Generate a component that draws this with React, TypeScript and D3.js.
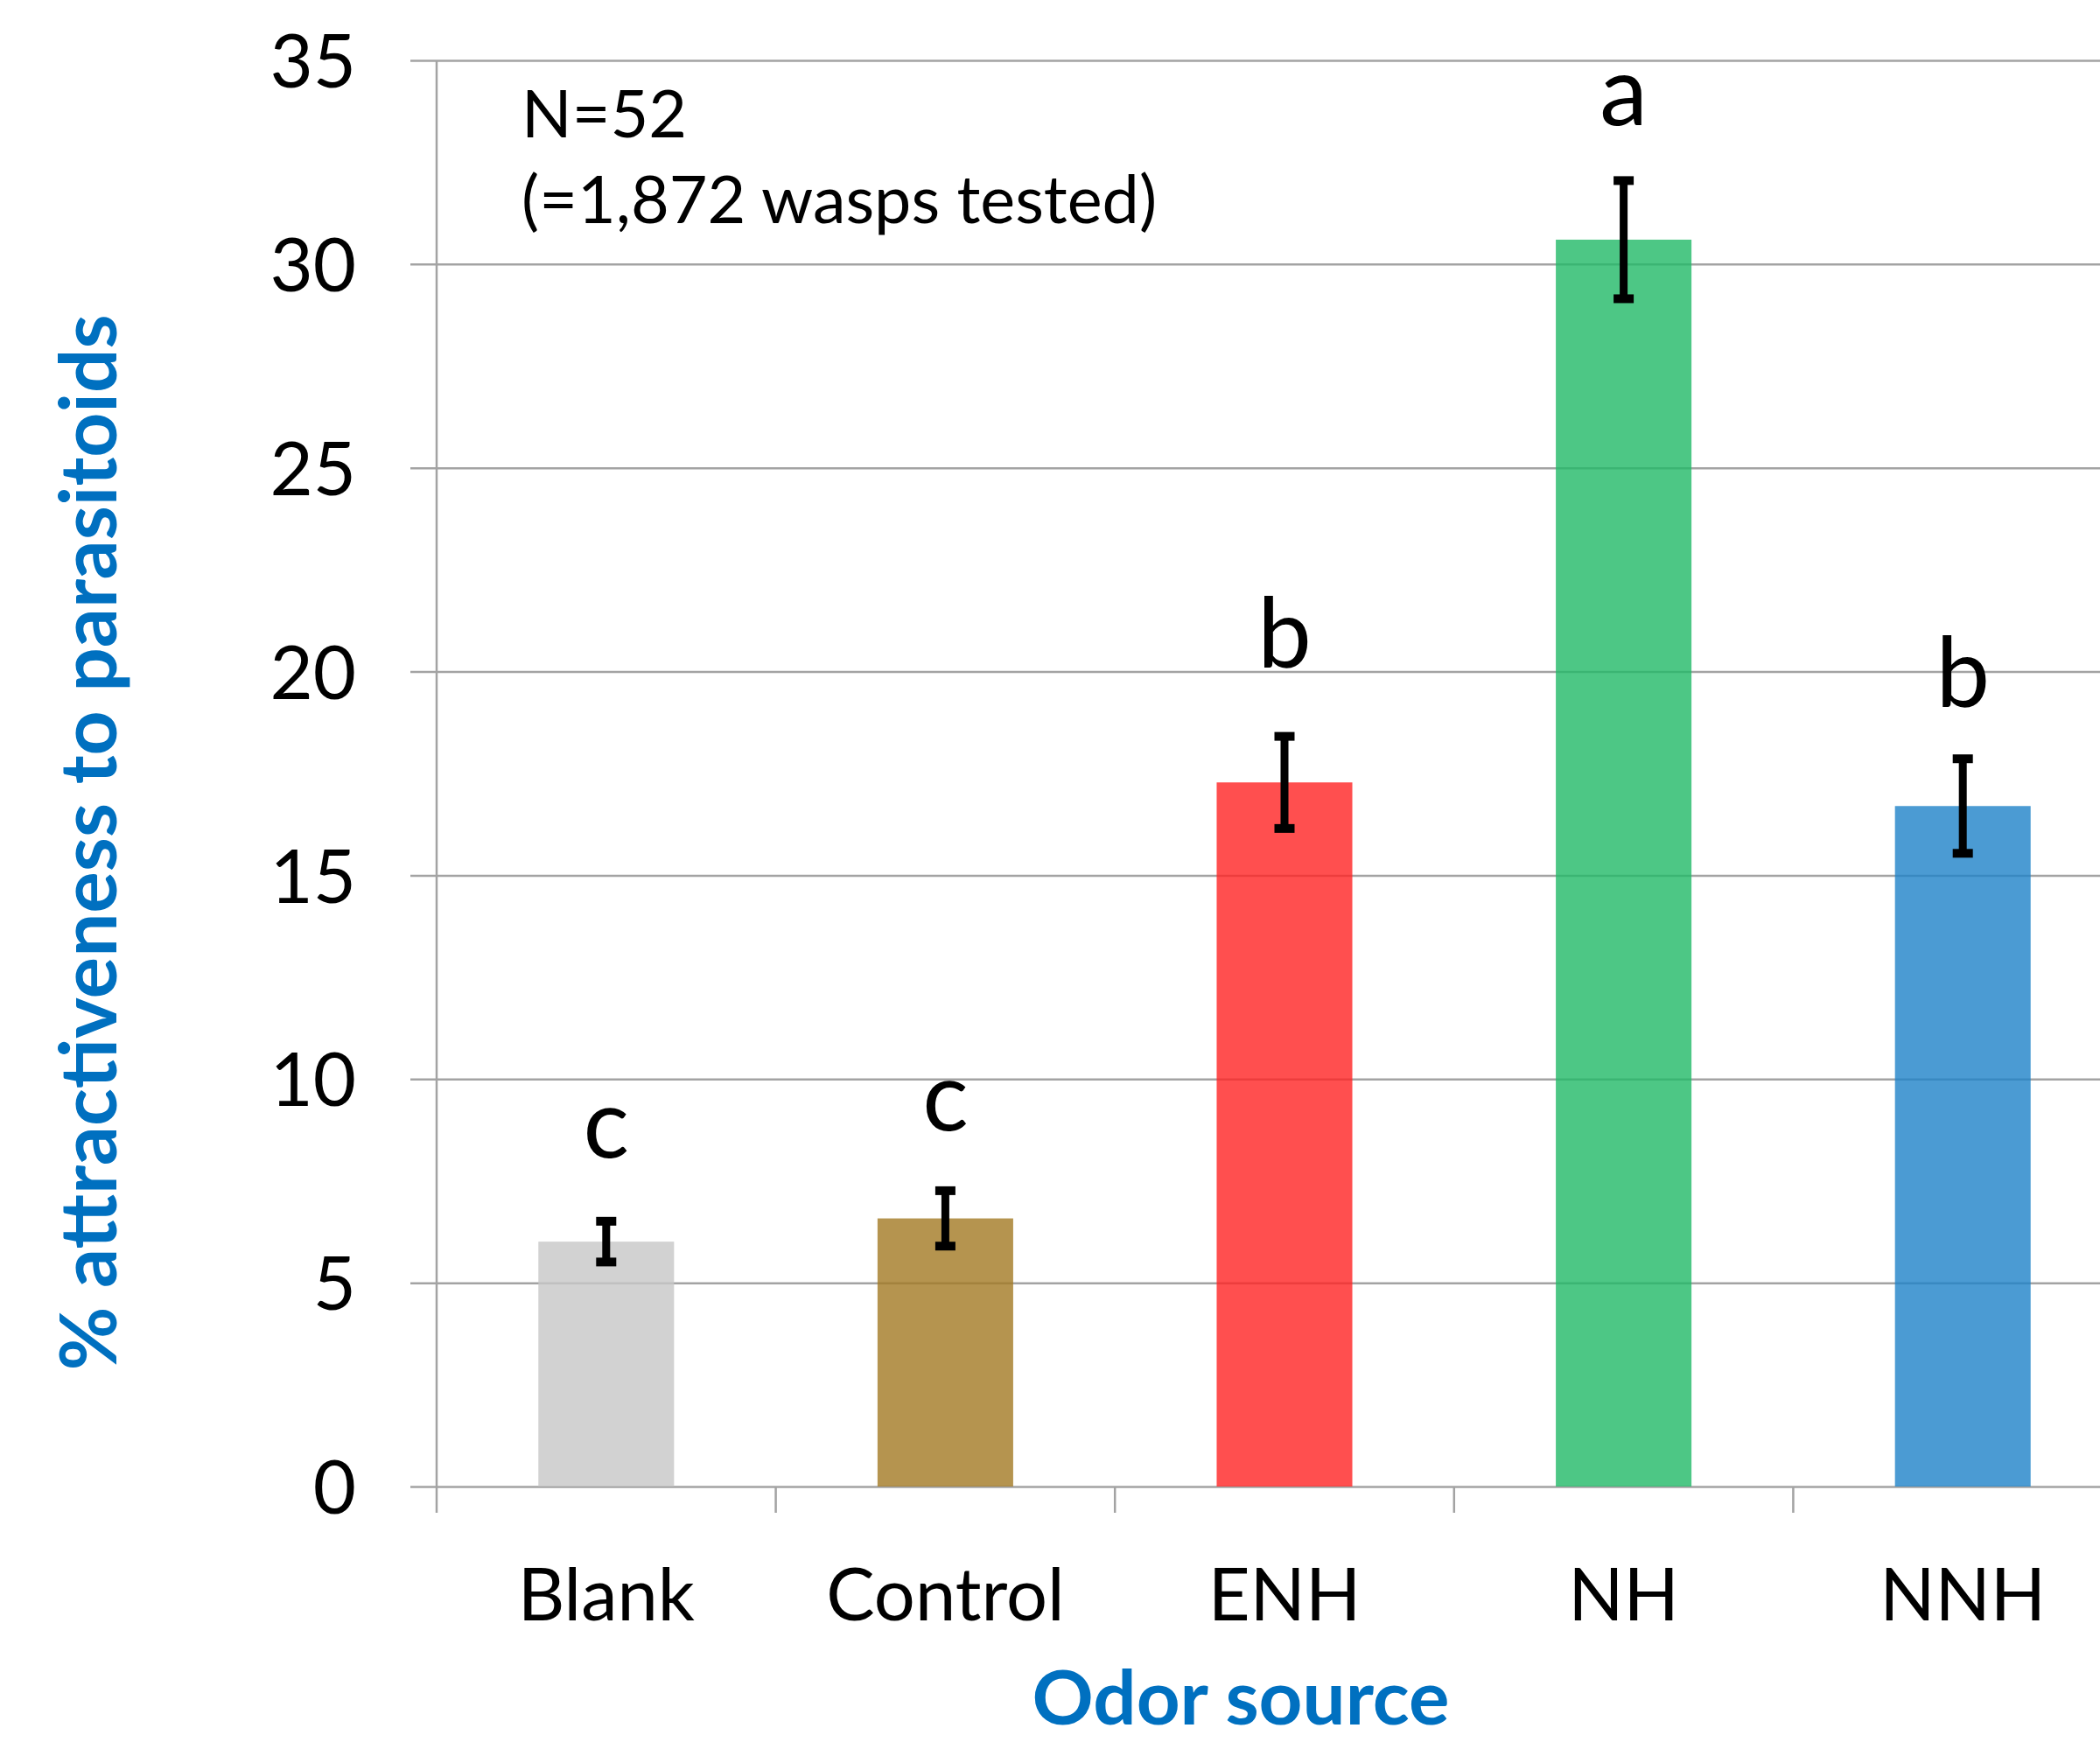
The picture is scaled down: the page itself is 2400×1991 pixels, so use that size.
import React, { useEffect, useRef } from "react";
import * as d3 from "d3";

const categories = ["Blank", "Control", "ENH", "NH", "NNH"];
const means = [6.01, 6.58, 17.28, 30.6, 16.7];
const errors = [0.5, 0.68, 1.13, 1.45, 1.16];
const letters = ["c", "c", "b", "a", "b"];
// baseline of each significance letter, in axis units
const letterLevels = [8.08, 8.73, 20.11, 33.41, 19.16];
const barColors = ["#c7c7c7", "#a37923", "#ff2323", "#21b967", "#1e82c8"];
const yTicks = [0, 5, 10, 15, 20, 25, 30, 35];
const noteLines = ["N=52", "(=1,872 wasps tested)"];

const W = 2400;
const H = 1991;
const FONT = "Lato, 'Open Sans', sans-serif";
const BLUE = "#0070c0";
const GRID = "#a3a3a3";

export default function App() {
  const ref = useRef<SVGSVGElement>(null);

  useEffect(() => {
    const svg = d3.select(ref.current);
    svg.selectAll("*").remove();

    const left = 499;
    const right = 2437; // plot runs past the picture edge
    const top = 69;
    const bottom = 1699;

    const x = d3
      .scaleBand()
      .domain(categories)
      .range([left, right])
      .paddingInner(0.6)
      .paddingOuter(0.3);
    const y = d3.scaleLinear().domain([0, 35]).range([bottom, top]);

    // gridlines (incl. the small ticks left of the axis)
    const grid = svg
      .append("g")
      .attr("transform", `translate(${left - 30},0)`)
      .call(
        d3
          .axisLeft(y)
          .tickValues(yTicks)
          .tickSize(-(right - left + 30))
          .tickFormat(() => "")
      );
    grid.select(".domain").remove();
    grid.selectAll("line").attr("stroke", GRID).attr("stroke-width", 2.5);

    // y labels
    const yAx = svg
      .append("g")
      .attr("transform", `translate(${left - 30},0)`)
      .call(d3.axisLeft(y).tickValues(yTicks).tickSize(0).tickPadding(62));
    yAx.select(".domain").remove();
    yAx
      .selectAll("text")
      .attr("font-family", FONT)
      .attr("font-size", 85)
      .attr("fill", "#000")
      .attr("dy", "0.36em");

    // category boundary ticks + vertical axis
    const step = x.step();
    const bounds = d3.range(categories.length + 1).map((i) => left + i * step);
    svg
      .append("g")
      .selectAll("line")
      .data(bounds)
      .join("line")
      .attr("x1", (d) => d)
      .attr("x2", (d) => d)
      .attr("y1", (d, i) => (i === 0 ? top : bottom))
      .attr("y2", bottom + 30)
      .attr("stroke", GRID)
      .attr("stroke-width", 2.5);

    // bars
    svg
      .append("g")
      .selectAll("rect")
      .data(categories)
      .join("rect")
      .attr("x", (d) => x(d)!)
      .attr("width", x.bandwidth())
      .attr("y", (d, i) => y(means[i]))
      .attr("height", (d, i) => y(0) - y(means[i]))
      .attr("fill", (d, i) => barColors[i])
      .attr("fill-opacity", 0.8);

    // error bars
    const eb = svg
      .append("g")
      .selectAll("g")
      .data(categories)
      .join("g")
      .attr("transform", (d) => `translate(${x(d)! + x.bandwidth() / 2},0)`);
    eb.append("line")
      .attr("y1", (d, i) => y(means[i] + errors[i]))
      .attr("y2", (d, i) => y(means[i] - errors[i]))
      .attr("stroke", "#000")
      .attr("stroke-width", 9);
    [1, -1].forEach((s) => {
      eb.append("line")
        .attr("x1", -11.5)
        .attr("x2", 11.5)
        .attr("y1", (d, i) => y(means[i] + s * errors[i]))
        .attr("y2", (d, i) => y(means[i] + s * errors[i]))
        .attr("stroke", "#000")
        .attr("stroke-width", 10);
    });

    // significance letters
    svg
      .append("g")
      .selectAll("text")
      .data(categories)
      .join("text")
      .attr("x", (d) => x(d)! + x.bandwidth() / 2)
      .attr("y", (d, i) => y(letterLevels[i]))
      .attr("text-anchor", "middle")
      .attr("font-family", FONT)
      .attr("font-size", 110)
      .text((d, i) => letters[i]);

    // category labels
    svg
      .append("g")
      .selectAll("text")
      .data(categories)
      .join("text")
      .attr("x", (d) => x(d)! + x.bandwidth() / 2)
      .attr("y", 1852)
      .attr("text-anchor", "middle")
      .attr("font-family", FONT)
      .attr("font-size", 83)
      .text((d) => d);

    // note
    svg
      .append("g")
      .selectAll("text")
      .data(noteLines)
      .join("text")
      .attr("x", 596)
      .attr("y", (d, i) => 157 + i * 98)
      .attr("font-family", FONT)
      .attr("font-size", 75.5)
      .text((d) => d);

    // axis titles
    svg
      .append("text")
      .attr("x", 1418)
      .attr("y", 1971)
      .attr("text-anchor", "middle")
      .attr("font-family", FONT)
      .attr("font-weight", "bold")
      .attr("font-size", 87)
      .attr("fill", BLUE)
      .text("Odor source");

    svg
      .append("text")
      .attr("transform", `translate(133,963) rotate(-90)`)
      .attr("text-anchor", "middle")
      .attr("font-family", FONT)
      .attr("font-weight", "bold")
      .attr("font-size", 89)
      .attr("fill", BLUE)
      .text("% attractiveness to parasitoids");
  }, []);

  return (
    <svg
      ref={ref}
      width={W}
      height={H}
      style={{ position: "absolute", left: 0, top: 0, background: "#fff" }}
    />
  );
}
